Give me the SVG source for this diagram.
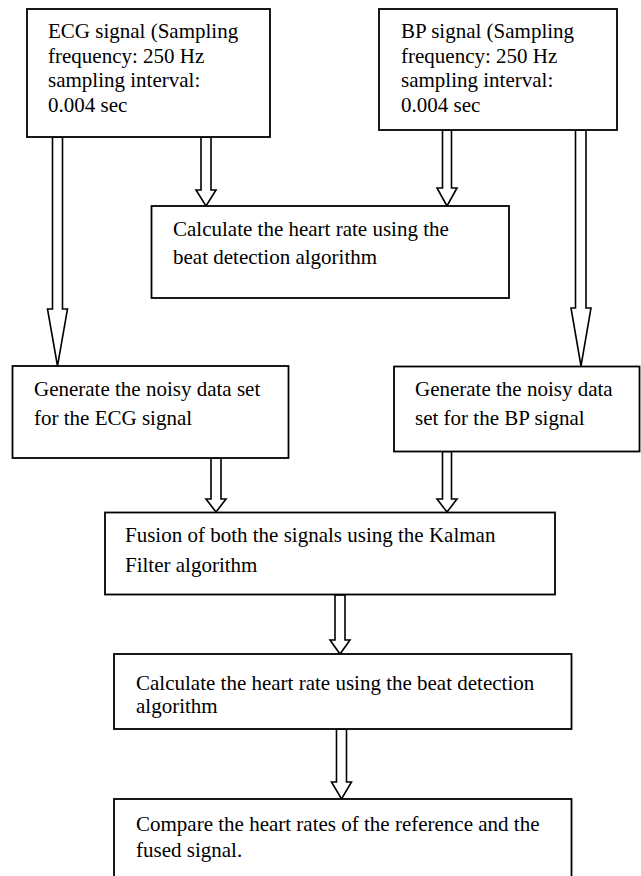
<svg xmlns="http://www.w3.org/2000/svg" width="641" height="876" viewBox="0 0 641 876">
<style>
.box{fill:#fff;stroke:#000;stroke-width:1.8}
.arr{fill:#fff;stroke:#000;stroke-width:1.6;stroke-linejoin:miter}
text{font-family:"Liberation Serif","Times New Roman",serif;font-size:21px;fill:#000}
</style>
<rect width="641" height="876" fill="#fff"/>
<g id="connectors">
<polygon class="arr" points="52.5,137 62.5,137 62.5,309 67.5,309 57.5,366 47.5,309 52.5,309"/>
<polygon class="arr" points="201,137 211,137 211,190 216,190 206,206 196,190 201,190"/>
<polygon class="arr" points="442.5,130 451.5,130 451.5,188 457,188 447,206 437,188 442.5,188"/>
<polygon class="arr" points="575.5,130 586,130 586,308 591,308 581,366 571,308 575.5,308"/>
<polygon class="arr" points="211,458 221,458 221,499 226,499 216,512 206,499 211,499"/>
<polygon class="arr" points="442.5,451.5 451.5,451.5 451.5,499 457,499 447,512 437,499 442.5,499"/>
<polygon class="arr" points="335,595 345,595 345,640 350,640 340,654 330,640 335,640"/>
<polygon class="arr" points="336.5,729 346.5,729 346.5,782 351.5,782 341.5,799 331.5,782 336.5,782"/>
</g>
<g id="ecg">
<rect class="box" x="27" y="9" width="243" height="128"/>
<text x="48" y="38">ECG signal (Sampling</text>
<text x="48" y="62.5">frequency: 250 Hz</text>
<text x="48" y="87">sampling interval:</text>
<text x="48" y="111.5">0.004 sec</text>
</g>
<g id="bp">
<rect class="box" x="379" y="9" width="238" height="121"/>
<text x="401" y="38">BP signal (Sampling</text>
<text x="401" y="62.5">frequency: 250 Hz</text>
<text x="401" y="87">sampling interval:</text>
<text x="401" y="111.5">0.004 sec</text>
</g>
<g id="calc1">
<rect class="box" x="151.5" y="206" width="357.5" height="92"/>
<text x="173" y="236">Calculate the heart rate using the</text>
<text x="173" y="264">beat detection algorithm</text>
</g>
<g id="noisy-ecg">
<rect class="box" x="12.5" y="366" width="276" height="92"/>
<text x="34" y="396">Generate the noisy data set</text>
<text x="34" y="425">for the ECG signal</text>
</g>
<g id="noisy-bp">
<rect class="box" x="394" y="366.5" width="245.5" height="85"/>
<text x="415" y="396">Generate the noisy data</text>
<text x="415" y="425">set for the BP signal</text>
</g>
<g id="fusion">
<rect class="box" x="105" y="512.5" width="450" height="82"/>
<text x="125" y="542">Fusion of both the signals using the Kalman</text>
<text x="125" y="572">Filter algorithm</text>
</g>
<g id="calc2">
<rect class="box" x="114" y="654" width="457.5" height="75"/>
<text x="136" y="690">Calculate the heart rate using the beat detection</text>
<text x="136" y="713">algorithm</text>
</g>
<g id="compare">
<rect class="box" x="114" y="799" width="457.5" height="100"/>
<text x="136" y="831">Compare the heart rates of the reference and the</text>
<text x="136" y="857">fused signal.</text>
</g>
</svg>
